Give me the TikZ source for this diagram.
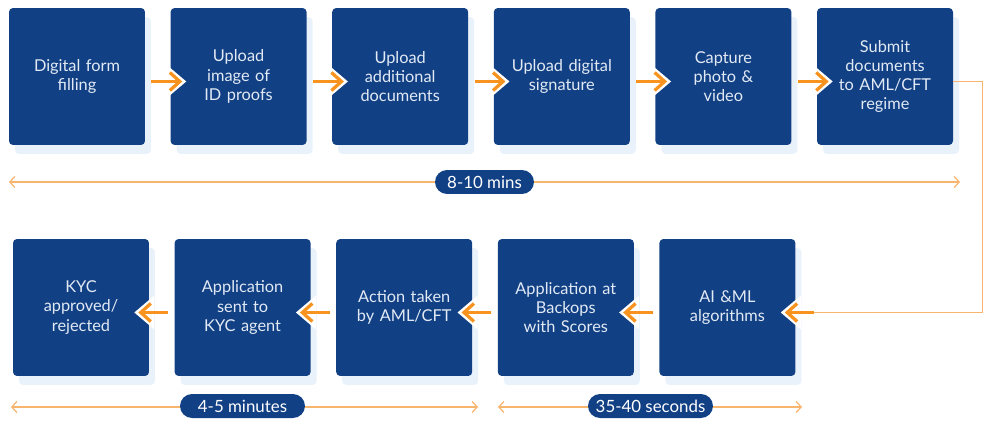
\documentclass[tikz,border=0pt]{standalone}
\usepackage{fontspec}
\setmainfont{Lato}
\usepackage{tikz}
\usetikzlibrary{
  calc, positioning, shadows,
  arrows.meta
}
\definecolor{kycblue}{HTML}{124084}
\definecolor{kycorange}{HTML}{F7931E}
\definecolor{kycpeach}{HTML}{F8B56E}
\definecolor{shadowblue}{HTML}{E9F2FB}
\definecolor{boxtext}{HTML}{E2EAF5}

\begin{document}
\begin{tikzpicture}[x=0.02cm, y=-0.02cm,
    stepbox/.style={fill=kycblue, rounded corners=0.08cm, inner sep=0pt,
      minimum width=2.72cm, minimum height=2.74cm, text width=2.5cm, align=center,
      text=boxtext, font=\fontsize{9.3}{10.9}\selectfont,
      general shadow={fill=shadowblue, shadow xshift=0.12cm, shadow yshift=-0.18cm}},
    flow/.style={draw=kycorange, line width=0.065cm,
      -{Straight Barb[length=0.2cm,width=0.36cm]}},
    notch/.style={fill=white},
    timeline/.style={draw=kycpeach, line width=0.025cm,
      {Straight Barb[length=0.1cm,width=0.22cm]}-{Straight Barb[length=0.1cm,width=0.22cm]}},
    link/.style={draw=kycpeach, line width=0.03cm},
    pill/.style={fill=kycblue, text=white, rounded corners=0.24cm, inner sep=0pt,
      minimum height=0.48cm, font=\fontsize{9.6}{11}\selectfont}]
        \pgfmathsetmacro{\pitch}{161.6}
        \useasboundingbox (0,0) rectangle (1000,442);
        % top row
        \node[stepbox] (t1) at (77,76.5) {Digital form\\filling};
        \node[stepbox] (t2) at ({77+\pitch},76.5) {Upload\\image of\\ID proofs};
        \node[stepbox] (t3) at ({77+2*\pitch},76.5) {Upload\\additional\\documents};
        \node[stepbox] (t4) at ({77+3*\pitch},76.5) {Upload digital\\signature};
        \node[stepbox] (t5) at ({77+4*\pitch},76.5) {Capture\\photo \&\\video};
        \node[stepbox] (t6) at ({77+5*\pitch},76.5) {Submit\\documents\\to AML/CFT\\regime};
        % bottom row
        \node[stepbox] (b1) at (81,307.5) {KYC\\approved/\\rejected};
        \node[stepbox] (b2) at ({81+\pitch},307.5) {Application\\sent to\\KYC agent};
        \node[stepbox] (b3) at ({81+2*\pitch},307.5) {Action taken\\by AML/CFT};
        \node[stepbox] (b4) at ({81+3*\pitch},307.5) {Application at\\Backops\\with Scores};
        \node[stepbox] (b5) at ({81+4*\pitch},307.5) {AI \&ML\\algorithms};
        \foreach \a/\b in {t1/t2, t2/t3, t3/t4, t4/t5, t5/t6} {
          \coordinate (tip) at ($ (\b.west) + (12,5) $);
          \fill[notch] ($ (tip) + (-16,-17) $) -- ($ (tip) + (4,0) $) -- ($ (tip) + (-16,17) $) -- cycle;
          \draw[flow] ($ (\a.east) + (6,5) $) -- (tip);
        }
        \foreach \a/\b in {b5/b4, b4/b3, b3/b2, b2/b1} {
          \coordinate (tip) at ($ (\b.east) + (-11,5) $);
          \fill[notch] ($ (tip) + (16,-17) $) -- ($ (tip) + (-4,0) $) -- ($ (tip) + (16,17) $) -- cycle;
          \draw[flow] ($ (\a.west) + (-6,5) $) -- (tip);
        }
        % from the last step down to the second row
        \coordinate (sout) at ($ (t6.east) + (0,5) $);
        \coordinate (aiin) at ($ (b5.east) + (18,5) $);
        \coordinate (aitip) at ($ (b5.east) + (-11,5) $);
        \draw[link] (sout) -- ++(29,0) |- (aiin);
        \fill[notch] ($ (aitip) + (16,-17) $) -- ($ (aitip) + (-4,0) $) -- ($ (aitip) + (16,17) $) -- cycle;
        \draw[flow] (aiin) -- (aitip);
        % time spans
        \coordinate (topl) at (9,182);
        \coordinate (topr) at (960,182);
        \coordinate (botl) at (11,407);
        \coordinate (botm) at (478,407);
        \coordinate (botn) at (498,407);
        \coordinate (botr) at (802,407);
        \draw[timeline] (topl) -- (topr);
        \draw[timeline] (botl) -- (botm);
        \draw[timeline] (botn) -- (botr);
        \node[pill, minimum width=1.98cm] (mins) at ($ (topl)!0.5!(topr) $) {8-10 mins};
        \node[pill, minimum width=2.5cm] (minutes) at (242.5,406) {4-5 minutes};
        \node[pill, minimum width=2.5cm] (seconds) at (650.5,406) {35-40 seconds};
    \end{tikzpicture}
\end{document}
